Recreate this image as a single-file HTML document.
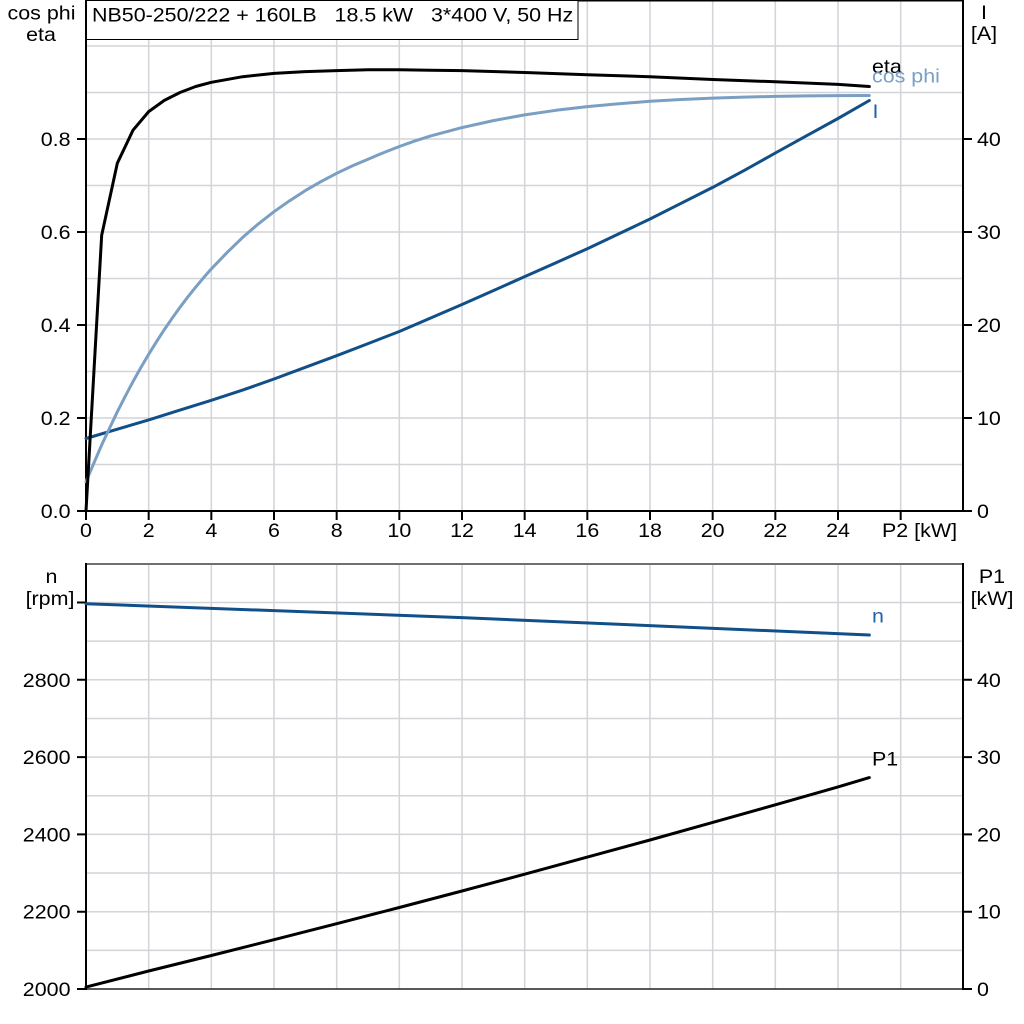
<!DOCTYPE html>
<html>
<head>
<meta charset="utf-8">
<style>
html,body{margin:0;padding:0;background:#fff;}
svg{display:block;}
text{font-family:"Liberation Sans",Arial,sans-serif;font-size:19.5px;fill:#000;white-space:pre;}
</style>
</head>
<body>
<svg width="1024" height="1024" viewBox="0 0 1024 1024" xmlns="http://www.w3.org/2000/svg">
<rect x="0" y="0" width="1024" height="1024" fill="#fff"/>

<!-- ===== TOP CHART GRID ===== -->
<g stroke="#d2d4d7" stroke-width="1.5" fill="none">
  <path d="M148.67 0V511M211.33 0V511M274 0V511M336.67 0V511M399.33 0V511M462 0V511M524.67 0V511M587.33 0V511M650 0V511M712.67 0V511M775.33 0V511M838 0V511M900.67 0V511"/>
  <path d="M86 464.5H963M86 418H963M86 371.5H963M86 325H963M86 278.5H963M86 232H963M86 185.5H963M86 139H963M86 92.5H963M86 46H963"/>
</g>
<!-- ===== BOTTOM CHART GRID ===== -->
<g stroke="#d2d4d7" stroke-width="1.5" fill="none">
  <path d="M148.67 564V989M211.33 564V989M274 564V989M336.67 564V989M399.33 564V989M462 564V989M524.67 564V989M587.33 564V989M650 564V989M712.67 564V989M775.33 564V989M838 564V989M900.67 564V989"/>
  <path d="M86 950.35H963M86 911.7H963M86 873.05H963M86 834.4H963M86 795.75H963M86 757.1H963M86 718.45H963M86 679.8H963M86 641.15H963M86 602.5H963"/>
</g>

<!-- ===== TOP CHART AXES ===== -->
<g stroke="#000" fill="none">
  <line x1="86" y1="0.75" x2="963" y2="0.75" stroke-width="1.5"/>
  <line x1="86" y1="0" x2="86" y2="512" stroke-width="2"/>
  <line x1="963" y1="0" x2="963" y2="512" stroke-width="2"/>
  <line x1="85" y1="511" x2="964" y2="511" stroke-width="2"/>
  <path stroke-width="2" d="M77 511H86M77 418H86M77 325H86M77 232H86M77 139H86"/>
  <path stroke-width="2" d="M963 511H972M963 418H972M963 325H972M963 232H972M963 139H972"/>
  <path stroke-width="2" d="M86 511V520M148.67 511V520M211.33 511V520M274 511V520M336.67 511V520M399.33 511V520M462 511V520M524.67 511V520M587.33 511V520M650 511V520M712.67 511V520M775.33 511V520M838 511V520M900.67 511V520"/>
</g>

<!-- ===== BOTTOM CHART AXES ===== -->
<g fill="none">
  <line x1="86" y1="564" x2="963" y2="564" stroke="#707070" stroke-width="2"/>
  <line x1="86" y1="989" x2="963" y2="989" stroke="#222" stroke-width="1.5"/>
  <line x1="86" y1="563" x2="86" y2="990" stroke="#000" stroke-width="2"/>
  <line x1="963" y1="563" x2="963" y2="990" stroke="#000" stroke-width="2"/>
  <path stroke="#000" stroke-width="2" d="M77 989H86M77 911.7H86M77 834.4H86M77 757.1H86M77 679.8H86M77 602.5H86"/>
  <path stroke="#000" stroke-width="2" d="M963 989H972M963 911.7H972M963 834.4H972M963 757.1H972M963 679.8H972"/>
</g>

<!-- ===== TOP CURVES ===== -->
<g fill="none" stroke-linejoin="round" stroke-linecap="round" stroke-width="3">
  <!-- I -->
  <polyline stroke="#114f88" points="86,438.5 117.33,429.2 148.67,419.9 180,410.1 211.33,400.3 242.67,390.1 274,379 305.33,367.3 336.67,355.7 368,343.6 399.33,331.5 430.67,318 462,304.5 493.33,290.6 524.67,276.6 556,262.7 587.33,248.7 618.67,233.9 650,219 681.33,203.2 712.67,187.4 744,170.6 775.33,153 806.67,135.7 838,118.5 869.33,100.5"/>
  <!-- cos phi -->
  <polyline stroke="#7a9fc3" points="86,481.7 93.83,463.2 101.67,445 109.5,428.2 117.33,411.8 125.17,396.4 133,381.6 140.83,367.6 148.67,354.3 156.5,341.7 164.33,329.6 172.17,318.2 180,307.3 187.83,296.9 195.67,287.2 203.5,277.8 211.33,268.9 227,252.6 242.67,237.4 258.33,223.9 274,211.7 289.67,200.7 305.33,190.6 321,181.6 336.67,173.3 352.33,165.9 368,159.2 383.67,152.6 399.33,146.5 415,140.9 430.67,135.9 462,127.6 493.33,120.6 524.67,114.9 556,110.3 587.33,106.6 618.67,103.7 650,101.3 681.33,99.5 712.67,98.1 744,97.1 775.33,96.4 806.67,95.9 838,95.6 869.33,95.5"/>
  <!-- eta -->
  <polyline stroke="#000" points="86,511 101.67,235.3 117.33,163.2 133,130.2 148.67,111.6 164.33,100.4 180,92.5 195.67,86.5 211.33,82.3 242.67,76.7 274,73.4 305.33,71.6 336.67,70.6 368,69.7 399.33,69.7 430.67,70.2 462,70.6 524.67,72.5 587.33,74.8 650,76.7 712.67,79.5 775.33,81.8 838,84.4 869.33,86.5"/>
</g>

<!-- ===== BOTTOM CURVES ===== -->
<g fill="none" stroke-linejoin="round" stroke-linecap="round" stroke-width="3">
  <polyline stroke="#114f88" points="86,603.7 462,617.6 869.33,635"/>
  <polyline stroke="#000" points="86,987.1 148.67,971 211.33,955.5 274,939.7 336.67,923.7 399.33,907.5 462,891 524.67,874.2 587.33,857.1 650,840 712.67,822.4 775.33,804.8 838,786.9 869.33,777.6"/>
</g>

<!-- ===== TITLE BOX ===== -->
<rect x="86.5" y="0.5" width="491.5" height="39" fill="#fff" stroke="#000" stroke-width="1"/>
<text transform="matrix(1.1 0 0 1 92 21.5)">NB50-250/222 + 160LB   18.5 kW   3*400 V, 50 Hz</text>

<!-- ===== TOP LABELS ===== -->
<g text-anchor="end">
  <text transform="matrix(1.1 0 0 1 70.5 518)">0.0</text>
  <text transform="matrix(1.1 0 0 1 70.5 425)">0.2</text>
  <text transform="matrix(1.1 0 0 1 70.5 332)">0.4</text>
  <text transform="matrix(1.1 0 0 1 70.5 239)">0.6</text>
  <text transform="matrix(1.1 0 0 1 70.5 146)">0.8</text>
</g>
<g text-anchor="start">
  <text transform="matrix(1.1 0 0 1 977 518)">0</text>
  <text transform="matrix(1.1 0 0 1 977 425)">10</text>
  <text transform="matrix(1.1 0 0 1 977 332)">20</text>
  <text transform="matrix(1.1 0 0 1 977 239)">30</text>
  <text transform="matrix(1.1 0 0 1 977 146)">40</text>
</g>
<g text-anchor="middle">
  <text transform="matrix(1.1 0 0 1 86 537)">0</text>
  <text transform="matrix(1.1 0 0 1 148.67 537)">2</text>
  <text transform="matrix(1.1 0 0 1 211.33 537)">4</text>
  <text transform="matrix(1.1 0 0 1 274 537)">6</text>
  <text transform="matrix(1.1 0 0 1 336.67 537)">8</text>
  <text transform="matrix(1.1 0 0 1 399.33 537)">10</text>
  <text transform="matrix(1.1 0 0 1 462 537)">12</text>
  <text transform="matrix(1.1 0 0 1 524.67 537)">14</text>
  <text transform="matrix(1.1 0 0 1 587.33 537)">16</text>
  <text transform="matrix(1.1 0 0 1 650 537)">18</text>
  <text transform="matrix(1.1 0 0 1 712.67 537)">20</text>
  <text transform="matrix(1.1 0 0 1 775.33 537)">22</text>
  <text transform="matrix(1.1 0 0 1 838 537)">24</text>
  <text transform="matrix(1.1 0 0 1 41.5 19.5)">cos phi</text>
  <text transform="matrix(1.1 0 0 1 41 41)">eta</text>
  <text transform="matrix(1.1 0 0 1 984 19)">I</text>
  <text transform="matrix(1.1 0 0 1 984 40)">[A]</text>
</g>
<text transform="matrix(1.1 0 0 1 882 537)">P2 [kW]</text>

<!-- series labels -->
<text transform="matrix(1.1 0 0 1 872 73)">eta</text>
<text transform="matrix(1.1 0 0 1 872 82.5)" style="fill:#7a9fc6">cos phi</text>
<text transform="matrix(1.1 0 0 1 872.5 118)" style="fill:#1f62a8">I</text>

<!-- ===== BOTTOM LABELS ===== -->
<g text-anchor="end">
  <text transform="matrix(1.1 0 0 1 70.5 996)">2000</text>
  <text transform="matrix(1.1 0 0 1 70.5 918.7)">2200</text>
  <text transform="matrix(1.1 0 0 1 70.5 841.4)">2400</text>
  <text transform="matrix(1.1 0 0 1 70.5 764.1)">2600</text>
  <text transform="matrix(1.1 0 0 1 70.5 686.8)">2800</text>
</g>
<g text-anchor="start">
  <text transform="matrix(1.1 0 0 1 977 996)">0</text>
  <text transform="matrix(1.1 0 0 1 977 918.7)">10</text>
  <text transform="matrix(1.1 0 0 1 977 841.4)">20</text>
  <text transform="matrix(1.1 0 0 1 977 764.1)">30</text>
  <text transform="matrix(1.1 0 0 1 977 686.8)">40</text>
</g>
<g text-anchor="middle">
  <text transform="matrix(1.1 0 0 1 51.5 583)">n</text>
  <text transform="matrix(1.1 0 0 1 50 605)">[rpm]</text>
  <text transform="matrix(1.1 0 0 1 992 583)">P1</text>
  <text transform="matrix(1.1 0 0 1 992 605)">[kW]</text>
</g>
<text transform="matrix(1.1 0 0 1 872 622.5)" style="fill:#1f62a8">n</text>
<text transform="matrix(1.1 0 0 1 872 765.5)">P1</text>
</svg>
</body>
</html>
